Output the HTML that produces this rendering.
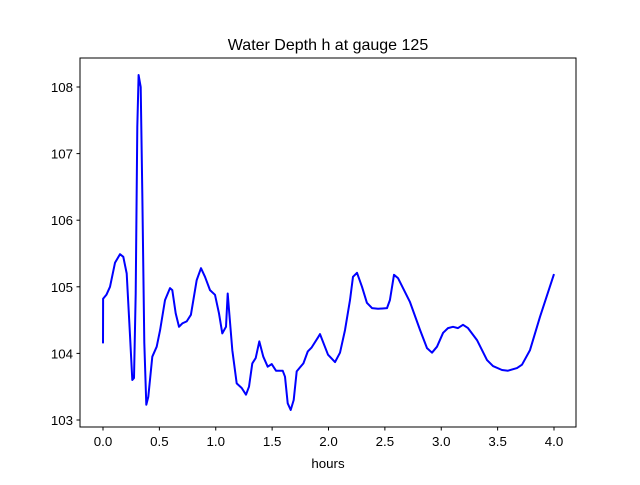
<!DOCTYPE html>
<html><head><meta charset="utf-8"><style>
body{margin:0;background:#fff;}
svg text{font-family:"Liberation Sans","DejaVu Sans",sans-serif;fill:#000;}
</style></head><body>
<svg id="chart" width="640" height="480" xmlns="http://www.w3.org/2000/svg">
<rect width="640" height="480" fill="#fff"/>
<text x="328" y="50" font-size="16" text-anchor="middle">Water Depth h at gauge 125</text>
<g id="ticks"></g>
<path id="series" fill="none" stroke="#0000ff" stroke-width="2" stroke-linejoin="round"/>
<rect x="80" y="58" width="496" height="369" fill="none" stroke="#000" stroke-width="1"/>
<text x="328" y="468" font-size="13.3" text-anchor="middle">hours</text>
</svg>
<script>
const hours=[0,0.001,0.03,0.062,0.106,0.151,0.18,0.21,0.239,0.26,0.275,0.29,0.304,0.316,0.334,0.349,0.366,0.384,0.402,0.437,0.476,0.506,0.55,0.594,0.615,0.645,0.674,0.703,0.742,0.78,0.831,0.869,0.905,0.949,0.993,1.029,1.058,1.091,1.106,1.12,1.147,1.186,1.23,1.268,1.295,1.324,1.354,1.386,1.422,1.461,1.496,1.534,1.594,1.614,1.638,1.665,1.691,1.718,1.747,1.777,1.816,1.851,1.91,1.925,1.996,2.058,2.102,2.146,2.191,2.217,2.253,2.297,2.341,2.386,2.439,2.519,2.545,2.581,2.616,2.661,2.723,2.812,2.874,2.918,2.962,3.016,3.06,3.104,3.149,3.193,3.237,3.317,3.406,3.459,3.539,3.592,3.672,3.716,3.787,3.876,4.0];
const depth=[104.15,104.82,104.88,105.0,105.36,105.49,105.45,105.2,104.3,103.6,103.63,104.9,107.4,108.18,108.0,106.41,104.16,103.23,103.35,103.95,104.1,104.35,104.8,104.98,104.95,104.6,104.4,104.45,104.48,104.58,105.1,105.28,105.15,104.95,104.88,104.6,104.3,104.4,104.9,104.6,104.05,103.55,103.48,103.38,103.5,103.85,103.93,104.18,103.95,103.8,103.84,103.74,103.74,103.65,103.25,103.15,103.3,103.73,103.79,103.85,104.03,104.09,104.25,104.29,103.98,103.87,104.01,104.35,104.8,105.15,105.21,105.0,104.76,104.68,104.67,104.68,104.8,105.18,105.13,104.98,104.77,104.35,104.08,104.01,104.1,104.31,104.38,104.4,104.38,104.43,104.38,104.2,103.9,103.81,103.75,103.74,103.78,103.83,104.05,104.55,105.19];
const xTicks=[0,0.5,1,1.5,2,2.5,3,3.5,4];
const xTickLabels=["0.0","0.5","1.0","1.5","2.0","2.5","3.0","3.5","4.0"];
const yTicks=[103,104,105,106,107,108];
const yTickLabels=["103","104","105","106","107","108"];
const X=h=>103+h*112.75;
const Y=v=>87+(108-v)*66.6;
const NS="http://www.w3.org/2000/svg";
const g=document.getElementById('ticks');
function mk(tag,attrs){const e=document.createElementNS(NS,tag);for(const k in attrs)e.setAttribute(k,attrs[k]);g.appendChild(e);return e;}
xTicks.forEach((t,i)=>{
  const l=mk('line',{x1:X(t),x2:X(t),y1:427,y2:430.5,stroke:'#000'});
  
  
  const tx=mk('text',{x:X(t),y:446,'font-size':'13.3','text-anchor':'middle'});
  tx.textContent=xTickLabels[i];
  
  
});
yTicks.forEach((t,i)=>{
  const l=mk('line',{x1:76.5,x2:80,y1:Y(t),y2:Y(t),stroke:'#000'});
  
  
  const tx=mk('text',{x:73,y:Y(t)+5,'font-size':'13.3','text-anchor':'end'});
  tx.textContent=yTickLabels[i];
  
  
});
document.getElementById('series').setAttribute('d',hours.map((h,i)=>(i?'L':'M')+X(h).toFixed(1)+','+Y(depth[i]).toFixed(1)).join(' '));
</script>
</body></html>
